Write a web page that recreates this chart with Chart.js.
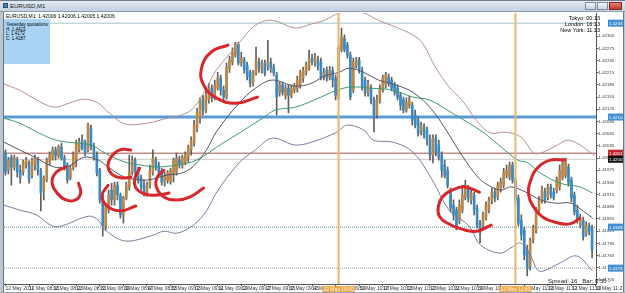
<!DOCTYPE html>
<html><head><meta charset="utf-8">
<script src="https://cdn.jsdelivr.net/npm/chart.js@4.4.1/dist/chart.umd.min.js"></script>
<style>
html,body{margin:0;padding:0;background:#fff;}
#wrap{position:relative;width:625px;height:293px;overflow:hidden;background:#fff;font-family:'Liberation Sans',Arial,sans-serif;}
#c{position:absolute;left:0;top:0;}
.t{position:absolute;white-space:nowrap;color:#000;line-height:1;}
</style></head><body>
<div id="wrap">
<canvas id="c" width="625" height="293"></canvas>
<div style="position:absolute;left:0;top:0;width:625px;height:12px;background:linear-gradient(#e2eaf3,#c3d0de);border-top:1px solid #6f7d8c;border-bottom:1px solid #8d9bab;box-sizing:border-box;"></div>
<div style="position:absolute;left:3px;top:3px;width:5px;height:5px;background:#4b7fb5;border:1px solid #2d4f74;box-sizing:border-box;"></div>
<div class="t" style="left:10px;top:3px;font-size:6px;color:#1a1a1a;">EURUSD,M1</div>
<div style="position:absolute;left:585px;top:2px;width:11px;height:8px;background:linear-gradient(#f2f5f9,#c9d3de);border:1px solid #7d8a98;box-sizing:border-box;"></div>
<div style="position:absolute;left:597px;top:2px;width:11px;height:8px;background:linear-gradient(#f2f5f9,#c9d3de);border:1px solid #7d8a98;box-sizing:border-box;"></div>
<div style="position:absolute;left:609px;top:2px;width:13px;height:8px;background:linear-gradient(#e8806a,#c0392b);border:1px solid #7a2a20;box-sizing:border-box;"></div>
<div style="position:absolute;left:0;top:12px;width:3px;height:281px;background:#bcc6d1;border-right:1px solid #6b7683;"></div>
<div style="position:absolute;left:623px;top:12px;width:2px;height:281px;background:#bcc6d1;border-left:1px solid #6b7683;"></div>
<div style="position:absolute;left:0;top:292px;width:625px;height:1px;background:#9aa5b1;"></div>
<div class="t" style="left:6px;top:14px;font-size:5px;">EURUSD,M1&nbsp; 1.42006 1.42006 1.42005 1.42006</div>
<div style="position:absolute;left:4px;top:19px;width:46px;height:45px;background:#a9d4f6;"></div>
<div class="t" style="left:6px;top:23px;font-size:4.5px;">Yesterday quotations:</div>
<div class="t" style="left:6px;top:27.5px;font-size:4.5px;">H: 1.4423</div>
<div class="t" style="left:6px;top:32px;font-size:4.5px;">L: 1.4172</div>
<div class="t" style="left:6px;top:36.5px;font-size:4.5px;">C: 1.4187</div>
<div class="t" style="right:25px;top:15.5px;font-size:5.5px;text-align:right;">Tokyo: 00:13</div>
<div class="t" style="right:25px;top:21.5px;font-size:5.5px;text-align:right;">London: 16:13</div>
<div class="t" style="right:25px;top:27.5px;font-size:5.5px;text-align:right;">New York: 11:13</div>
<div class="t" style="left:548px;top:278px;font-size:6px;color:#222;">Spread: 16&nbsp;&nbsp;&nbsp;Bar: 0:50 -</div>
</div>
<script>
// ---- data (EURUSD M1, 12 May 2011, bars from 08:07) ----
const openP = [1.42017,1.41975,1.42007,1.41983,1.42000,1.41975,1.41970,1.41988,1.41993,1.41963,
1.41988,1.42000,1.41975,1.41926,1.41951,1.41995,1.42005,1.42025,1.42010,1.42032,
1.42005,1.41988,1.41956,1.41980,1.42000,1.42025,1.42049,1.42042,1.42025,1.42079,
1.42032,1.42012,1.41975,1.41907,1.41838,1.41877,1.41926,1.41902,1.41938,1.41914,
1.41865,1.41907,1.41934,1.41970,1.42000,1.41975,1.41956,1.41938,1.41919,1.41938,
1.41970,1.42000,1.41988,1.41975,1.41946,1.41951,1.41946,1.41963,1.41970,1.42000,
1.41988,1.41995,1.42005,1.42025,1.42042,1.42079,1.42103,1.42148,1.42123,1.42148,
1.42177,1.42153,1.42177,1.42202,1.42172,1.42155,1.42226,1.42241,1.42258,1.42285,
1.42239,1.42246,1.42234,1.42216,1.42189,1.42214,1.42241,1.42221,1.42239,1.42231,
1.42241,1.42229,1.42209,1.42165,1.42185,1.42157,1.42177,1.42160,1.42172,1.42177,
1.42185,1.42202,1.42216,1.42226,1.42251,1.42239,1.42246,1.42241,1.42204,1.42221,
1.42202,1.42221,1.42202,1.42155,1.42271,1.42300,1.42283,1.42258,1.42172,1.42234,
1.42246,1.42221,1.42197,1.42165,1.42177,1.42148,1.42111,1.42148,1.42172,1.42185,
1.42204,1.42197,1.42185,1.42177,1.42160,1.42148,1.42123,1.42135,1.42135,1.42111,
1.42098,1.42069,1.42081,1.42074,1.42049,1.42012,1.42054,1.42037,1.42012,1.41988,
1.41975,1.41926,1.41889,1.41877,1.41852,1.41877,1.41909,1.41931,1.41902,1.41914,
1.41882,1.41845,1.41838,1.41857,1.41877,1.41902,1.41921,1.41909,1.41931,1.41938,
1.41963,1.41958,1.41988,1.41951,1.41907,1.41852,1.41828,1.41779,1.41739,1.41803,
1.41828,1.41877,1.41902,1.41921,1.41909,1.41934,1.41921,1.41926,1.41934,1.41956,
1.41963,1.41983,1.41951,1.41914,1.41877,1.41840,1.41852,1.41820,1.41838,1.41833];
const highP = [1.42025,1.42007,1.42012,1.42012,1.42007,1.41988,1.42000,1.42007,1.41998,1.42005,
1.42012,1.42007,1.41980,1.41961,1.42005,1.42020,1.42032,1.42032,1.42037,1.42042,
1.42012,1.41993,1.41988,1.42020,1.42049,1.42054,1.42062,1.42049,1.42091,1.42086,
1.42042,1.42020,1.41980,1.41914,1.41892,1.41926,1.41943,1.41946,1.41946,1.41919,
1.41911,1.41946,1.42012,1.42010,1.42005,1.41983,1.41963,1.41951,1.41946,1.41988,
1.42025,1.42007,1.41995,1.41980,1.41970,1.41975,1.41980,1.42005,1.42017,1.42010,
1.42012,1.42020,1.42037,1.42057,1.42098,1.42128,1.42153,1.42160,1.42172,1.42189,
1.42185,1.42197,1.42216,1.42209,1.42182,1.42239,1.42256,1.42276,1.42290,1.42290,
1.42266,1.42253,1.42241,1.42221,1.42221,1.42278,1.42251,1.42246,1.42246,1.42295,
1.42251,1.42236,1.42216,1.42192,1.42192,1.42185,1.42185,1.42185,1.42189,1.42207,
1.42221,1.42229,1.42241,1.42271,1.42261,1.42263,1.42256,1.42251,1.42226,1.42229,
1.42231,1.42229,1.42209,1.42283,1.42325,1.42308,1.42290,1.42266,1.42251,1.42253,
1.42253,1.42229,1.42204,1.42197,1.42185,1.42155,1.42160,1.42185,1.42209,1.42216,
1.42212,1.42204,1.42192,1.42185,1.42167,1.42155,1.42153,1.42157,1.42143,1.42123,
1.42106,1.42093,1.42089,1.42081,1.42062,1.42062,1.42062,1.42049,1.42020,1.42000,
1.41983,1.41931,1.41902,1.41884,1.41902,1.41938,1.41951,1.41938,1.41926,1.41921,
1.41889,1.41852,1.41872,1.41897,1.41909,1.41931,1.41931,1.41946,1.41956,1.41980,
1.41988,1.41995,1.41995,1.41958,1.41914,1.41865,1.41835,1.41791,1.41808,1.41840,
1.41884,1.41911,1.41936,1.41931,1.41941,1.41941,1.41931,1.41958,1.41988,1.42005,
1.42005,1.41990,1.41958,1.41921,1.41889,1.41867,1.41860,1.41848,1.41845,1.41840];
const lowP = [1.41963,1.41966,1.41938,1.41975,1.41958,1.41943,1.41963,1.41980,1.41943,1.41956,
1.41975,1.41963,1.41875,1.41902,1.41946,1.41988,1.42000,1.42000,1.42005,1.42000,
1.41975,1.41943,1.41951,1.41975,1.41983,1.42020,1.42025,1.42010,1.42020,1.42025,
1.42000,1.41961,1.41894,1.41813,1.41828,1.41870,1.41889,1.41889,1.41902,1.41857,
1.41845,1.41902,1.41926,1.41963,1.41963,1.41943,1.41926,1.41911,1.41911,1.41931,
1.41963,1.41975,1.41963,1.41938,1.41936,1.41943,1.41941,1.41946,1.41963,1.41980,
1.41980,1.41988,1.41995,1.42012,1.42034,1.42069,1.42091,1.42111,1.42116,1.42140,
1.42143,1.42148,1.42172,1.42160,1.42148,1.42150,1.42216,1.42234,1.42253,1.42234,
1.42231,1.42214,1.42197,1.42180,1.42182,1.42209,1.42216,1.42214,1.42207,1.42221,
1.42216,1.42207,1.42111,1.42157,1.42160,1.42150,1.42116,1.42153,1.42165,1.42167,
1.42177,1.42192,1.42209,1.42221,1.42234,1.42231,1.42221,1.42197,1.42197,1.42194,
1.42197,1.42180,1.42148,1.42148,1.42266,1.42266,1.42251,1.42148,1.42165,1.42226,
1.42214,1.42172,1.42157,1.42157,1.42138,1.42069,1.42103,1.42140,1.42167,1.42177,
1.42182,1.42170,1.42160,1.42148,1.42123,1.42116,1.42118,1.42128,1.42086,1.42079,
1.42059,1.42062,1.42054,1.42037,1.42000,1.41993,1.42010,1.42000,1.41958,1.41956,
1.41931,1.41872,1.41852,1.41828,1.41843,1.41870,1.41902,1.41897,1.41892,1.41865,
1.41833,1.41796,1.41828,1.41852,1.41870,1.41892,1.41897,1.41902,1.41921,1.41931,
1.41956,1.41951,1.41943,1.41889,1.41838,1.41803,1.41754,1.41715,1.41729,1.41796,
1.41820,1.41870,1.41894,1.41894,1.41902,1.41907,1.41902,1.41919,1.41926,1.41951,
1.41956,1.41936,1.41897,1.41865,1.41845,1.41833,1.41803,1.41813,1.41816,1.41759];
const closeP = [1.41970,1.42000,1.41983,1.42005,1.41970,1.41958,1.41995,1.42000,1.41951,1.42000,
1.42005,1.41975,1.41919,1.41956,1.42000,1.42012,1.42025,1.42010,1.42032,1.42005,
1.41980,1.41951,1.41980,1.42012,1.42042,1.42044,1.42030,1.42017,1.42086,1.42032,
1.42007,1.41968,1.41902,1.41838,1.41887,1.41914,1.41902,1.41938,1.41914,1.41865,
1.41907,1.41938,1.41970,1.42000,1.41970,1.41951,1.41934,1.41919,1.41938,1.41975,
1.42005,1.41983,1.41970,1.41946,1.41963,1.41968,1.41975,1.42000,1.42005,1.41988,
1.42007,1.42012,1.42030,1.42049,1.42086,1.42116,1.42148,1.42123,1.42160,1.42177,
1.42153,1.42185,1.42202,1.42172,1.42155,1.42229,1.42246,1.42266,1.42285,1.42239,
1.42251,1.42221,1.42204,1.42189,1.42214,1.42246,1.42226,1.42239,1.42214,1.42241,
1.42226,1.42214,1.42155,1.42185,1.42167,1.42177,1.42160,1.42177,1.42182,1.42197,
1.42216,1.42221,1.42234,1.42251,1.42241,1.42251,1.42231,1.42204,1.42216,1.42202,
1.42221,1.42197,1.42160,1.42276,1.42303,1.42271,1.42258,1.42155,1.42241,1.42246,
1.42221,1.42180,1.42165,1.42185,1.42148,1.42106,1.42148,1.42177,1.42202,1.42209,
1.42189,1.42177,1.42167,1.42155,1.42135,1.42123,1.42143,1.42148,1.42098,1.42086,
1.42066,1.42086,1.42062,1.42049,1.42012,1.42054,1.42020,1.42007,1.41975,1.41963,
1.41938,1.41882,1.41865,1.41833,1.41889,1.41914,1.41938,1.41907,1.41919,1.41877,
1.41840,1.41820,1.41865,1.41889,1.41902,1.41921,1.41907,1.41938,1.41946,1.41970,
1.41975,1.41988,1.41951,1.41902,1.41845,1.41816,1.41766,1.41734,1.41803,1.41833,
1.41877,1.41902,1.41926,1.41902,1.41934,1.41914,1.41907,1.41951,1.41975,1.41993,
1.41995,1.41943,1.41907,1.41872,1.41852,1.41857,1.41811,1.41840,1.41823,1.41779];

// Bollinger bands and moving average, read at [bar, price]
const bbUpper = [[-0.5,1.42187],[4.8,1.42172],[10.5,1.42148],[16.5,1.42130],[21.5,1.42140],[26.5,1.42150],[31.5,1.42140],[34.8,1.42118],[40.5,1.42089],[48.2,1.42091],[54.8,1.42103],[59.8,1.42111],[63.8,1.42128],[68.2,1.42177],[71.5,1.42221],[79.2,1.42288],[84.8,1.42332],[90.5,1.42344],[98.2,1.42325],[103.8,1.42335],[108.2,1.42344],[113.2,1.42362],[116.5,1.42364],[121.5,1.42362],[126.5,1.42344],[131.5,1.42330],[138.2,1.42308],[141.5,1.42288],[145.8,1.42229],[150.5,1.42180],[154.8,1.42148],[160.5,1.42091],[164.8,1.42066],[169.2,1.42069],[174.8,1.42057],[179.2,1.42017],[181.5,1.42017],[187.2,1.42037],[190.5,1.42049],[193.8,1.42042],[198.2,1.42020],[199.8,1.42012]];
const bbMiddle = [[-0.5,1.42044],[4.8,1.42025],[10.5,1.42005],[16.5,1.41983],[21.5,1.41985],[26.5,1.42007],[31.5,1.42000],[34.8,1.41983],[40.5,1.41958],[48.2,1.41951],[54.8,1.41963],[59.8,1.41968],[63.8,1.41985],[68.2,1.42025],[71.5,1.42069],[79.2,1.42140],[84.8,1.42177],[90.5,1.42197],[98.2,1.42182],[103.8,1.42189],[108.2,1.42207],[113.2,1.42216],[116.5,1.42226],[121.5,1.42216],[126.5,1.42197],[131.5,1.42187],[138.2,1.42167],[144.8,1.42123],[150.5,1.42062],[154.8,1.42012],[160.5,1.41956],[164.8,1.41934],[168.2,1.41926],[171.5,1.41934],[176.5,1.41921],[181.5,1.41902],[186.5,1.41894],[191.8,1.41894],[195.5,1.41877],[199.2,1.41857]];
const bbLower = [[-0.5,1.41889],[4.8,1.41877],[10.5,1.41865],[15.8,1.41838],[19.2,1.41838],[28.2,1.41862],[31.5,1.41852],[33.8,1.41828],[40.5,1.41801],[49.2,1.41813],[53.8,1.41825],[58.2,1.41820],[63.8,1.41840],[68.2,1.41875],[71.5,1.41919],[79.2,1.41993],[84.8,1.42025],[90.5,1.42054],[98.2,1.42037],[103.8,1.42044],[112.5,1.42069],[115.8,1.42086],[121.5,1.42074],[124.8,1.42049],[131.5,1.42044],[138.2,1.42020],[144.8,1.41951],[150.5,1.41877],[157.2,1.41838],[160.5,1.41796],[163.8,1.41779],[168.2,1.41771],[171.5,1.41784],[174.8,1.41796],[178.2,1.41764],[180.5,1.41729],[182.5,1.41727],[188.2,1.41747],[193.8,1.41764],[199.2,1.41727]];
const maGreen = [[-0.5,1.42103],[4.8,1.42091],[11.5,1.42066],[17.2,1.42049],[23.8,1.42042],[29.2,1.42037],[33.8,1.42017],[40.5,1.41995],[45.8,1.41988],[51.5,1.41983],[58.2,1.41988],[64.8,1.42000],[73.8,1.42042],[79.2,1.42066],[87.2,1.42103],[91.5,1.42123],[98.2,1.42130],[104.8,1.42148],[112.5,1.42172],[117.2,1.42180],[123.8,1.42177],[131.5,1.42172],[138.2,1.42155],[143.8,1.42148],[151.5,1.42116],[157.2,1.42091],[162.5,1.42066],[168.2,1.42032],[173.8,1.42000],[177.2,1.41993],[181.5,1.41968],[188.2,1.41943],[194.8,1.41934],[199.2,1.41919]];

// horizontal price lines and vertical time lines
const hLinePrices = [1.42337, 1.42106, 1.42017, 1.42002, 1.41835, 1.41734];
const hLineLabels = ['1.42337','1.42106','1.42017','1.42002','1.41835','1.41734'];
const vLineBars = [113, 173];
const vLineLabels = ['12 May 10:00', '12 May 11:00'];

// hand-drawn red marks, [bar, price]
const redMarks = [
 [[75.5,1.42283],[69.8,1.42266],[66.5,1.42226],[67.2,1.42185],[71.5,1.42153],[78.2,1.42140],[85.5,1.42155]],
 [[20.5,1.41983],[17.2,1.41970],[15.8,1.41946],[17.5,1.41919],[20.5,1.41902],[23.8,1.41902],[25.5,1.41919],[24.8,1.41943]],
 [[34.8,1.41938],[32.8,1.41914],[34.2,1.41889],[38.8,1.41875],[44.2,1.41887]],
 [[42.5,1.42025],[38.8,1.42025],[35.8,1.42007],[34.8,1.41983],[36.5,1.41963],[39.5,1.41956],[42.5,1.41958]],
 [[45.5,1.41980],[43.8,1.41951],[44.5,1.41929],[47.5,1.41916],[51.5,1.41914],[55.5,1.41919]],
 [[53.8,1.41975],[51.5,1.41958],[51.2,1.41934],[53.8,1.41909],[58.2,1.41902],[62.5,1.41909],[67.2,1.41931]],
 [[160.8,1.41921],[155.8,1.41934],[151.5,1.41926],[148.2,1.41909],[146.8,1.41884],[147.2,1.41862],[149.8,1.41845],[154.8,1.41830],[159.8,1.41825],[164.8,1.41840]],
 [[189.8,1.42000],[184.8,1.42000],[180.8,1.41983],[178.2,1.41951],[177.5,1.41914],[179.2,1.41884],[182.2,1.41860],[186.5,1.41847],[191.5,1.41843],[194.8,1.41857]]
];

// axes
const priceMin = 1.41695, priceMax = 1.42362;
const priceTicks = [1.41705,1.41735,1.41765,1.41795,1.41825,1.41855,1.41885,1.41915,1.41945,1.41975,1.42005,1.42035,1.42065,1.42095,1.42125,1.42155,1.42185,1.42215,1.42245,1.42275,1.42305];
const timeTickBars = [0,8,16,24,32,40,48,56,64,72,80,88,96,104,112,120,128,136,144,152,160,168,176,184,192,200];
const timeTickLabels = ['12 May 2011','12 May 08:15','12 May 08:23','12 May 08:31','12 May 08:39','12 May 08:47','12 May 08:55','12 May 09:03','12 May 09:11','12 May 09:19','12 May 09:27','12 May 09:35','12 May 09:43','12 May 09:51','12 May 09:59','12 May 10:07','12 May 10:15','12 May 10:23','12 May 10:31','12 May 10:39','12 May 10:47','12 May 10:55','12 May 11:03','12 May 11:11','12 May 11:19','12 May 11:27'];

// ---- chart ----
const FONT = "'Liberation Sans', Arial, sans-serif";
const NARROW = "'Liberation Sans Narrow', 'Liberation Sans', Arial, sans-serif";
const BULL = '#b98647', BEAR = '#3a8bc3';
const idx = openP.map((_, i) => i);
const datasets = [];

hLinePrices.forEach((p, k) => {
  const styles = [
    {c:'#9ec3cf', w:1, d:[]},
    {c:'#5b9cd6', w:3, d:[]},
    {c:'#a4544c', w:1, d:[]},
    {c:'#c9c9c9', w:1, d:[]},
    {c:'#4f8197', w:1, d:[1,1]},
    {c:'#8a9fb3', w:1, d:[1,1]}
  ][k];
  datasets.push({type:'line', data:[{x:-0.5,y:p},{x:200.5,y:p}], borderColor:styles.c, borderWidth:styles.w, borderDash:styles.d, pointRadius:0, order:60});
});
datasets.push({type:'bar', data: idx.map(i => ({x:i, y:[lowP[i], highP[i]]})), backgroundColor:'#5f5f5f', barThickness:1, grouped:false, order:30});
datasets.push({type:'bar', data: idx.map(i => ({x:i, y:[openP[i], closeP[i]]})), backgroundColor: idx.map(i => closeP[i] >= openP[i] ? BULL : BEAR), barThickness:2, grouped:false, order:20});
const lineDs = (arr, color, w) => ({type:'line', data: arr.map(([x, y]) => ({x, y})), borderColor: color, borderWidth: w, pointRadius:0, tension:0.35, order:15});
datasets.push(lineDs(bbUpper, '#b89090', 1));
datasets.push(lineDs(bbMiddle, '#55556a', 1));
datasets.push(lineDs(bbLower, '#7b7ba3', 1));
datasets.push(lineDs(maGreen, '#3f9a6e', 1));
vLineBars.forEach(b => datasets.push({type:'line', data:[{x:b,y:priceMin},{x:b,y:priceMax}], borderColor:'#e9b76b', borderWidth:2, pointRadius:0, order:10}));
redMarks.forEach(m => datasets.push({type:'line', data:m.map(([x, y]) => ({x, y})), borderColor:'#d8262a', borderWidth:3, pointRadius:0, tension:0.45, borderCapStyle:'round', order:1}));

const labelMap = {};
timeTickBars.forEach((b, k) => labelMap[b] = timeTickLabels[k]);

const boxPlugin = {
  id:'boxes',
  afterDraw(chart) {
    const c = chart.ctx, ys = chart.scales.y, xs = chart.scales.x;
    const fills = ['#3f8fd2','#3f8fd2','#c0262b','#111111','#3f8fd2','#3f8fd2'];
    c.save();
    c.font = '4.4px ' + NARROW;
    c.textBaseline = 'middle';
    hLinePrices.forEach((p, k) => {
      const y = ys.getPixelForValue(p);
      c.fillStyle = fills[k];
      c.fillRect(608, y - 3.5, 15, 7);
      c.fillStyle = '#fff';
      c.textAlign = 'left';
      c.fillText(hLineLabels[k], 609, y + 0.5);
    });
    c.font = '5px ' + FONT;
    vLineBars.forEach((b, k) => {
      const x = xs.getPixelForValue(b);
      c.fillStyle = '#f0a84a';
      c.fillRect(x - 16, 286, 32, 6);
      c.fillStyle = '#fff4e0';
      c.textAlign = 'center';
      c.fillText(vLineLabels[k], x, 289.5);
    });
    c.restore();
  }
};

new Chart(document.getElementById('c'), {
  type:'bar',
  data:{datasets},
  options:{
    responsive:false, animation:false, devicePixelRatio:1,
    layout:{padding:{left:4, top:13, right:0, bottom:0}},
    plugins:{legend:{display:false}, tooltip:{enabled:false}},
    scales:{
      x:{type:'linear', min:-0.5, max:200.5, offset:false,
        afterBuildTicks:s => { s.ticks = timeTickBars.map(v => ({value:v})); },
        afterFit:s => { s.height = 9; },
        grid:{drawOnChartArea:false, tickLength:2, color:'#555', offset:false},
        border:{color:'#555'},
        ticks:{autoSkip:false, maxRotation:0, minRotation:0, align:'start', padding:0, color:'#333', font:{size:5, family:FONT}, callback:v => labelMap[v] || ''}
      },
      y:{position:'right', min:priceMin, max:priceMax,
        afterBuildTicks:s => { s.ticks = priceTicks.map(v => ({value:v})); },
        afterFit:s => { s.width = 18; },
        grid:{drawOnChartArea:false, tickLength:2, color:'#555'},
        border:{color:'#555'},
        ticks:{padding:0, color:'#333', font:{size:4.4, family:NARROW}, callback:v => v.toFixed(5)}
      }
    }
  },
  plugins:[boxPlugin]
});
</script>
</body></html>
